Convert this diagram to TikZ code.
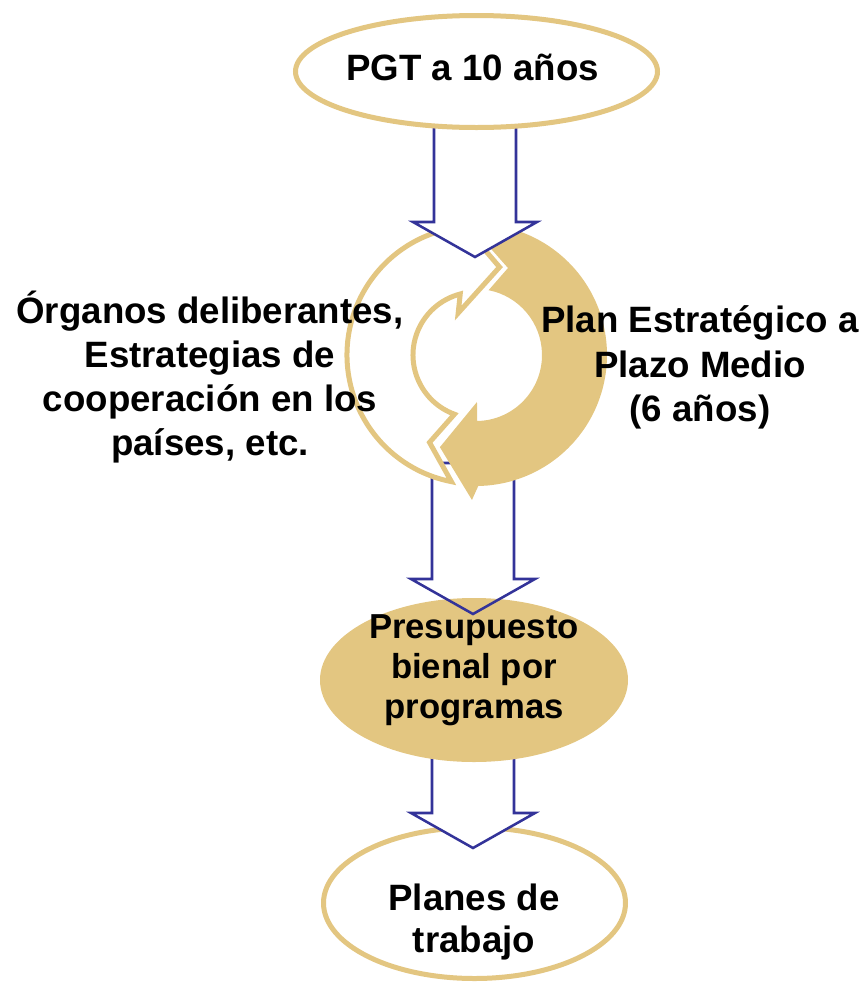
\documentclass[tikz,border=0pt]{standalone}
\usepackage{fontspec}
\setmainfont{Liberation Sans}
\usetikzlibrary{shapes.geometric,calc}
\definecolor{tanc}{RGB}{227,198,129}
\definecolor{navyc}{RGB}{51,51,153}
\newcommand\blockarrow[3]{%
  \path[barrow,#3] (#2) -- ($(#2)+(-62,-35)$) -- ($(#2)+(-41,-35)$) |- (#1)
     -| ($(#2)+(41,-35)$) -- ($(#2)+(62,-35)$) -- cycle;}
\begin{document}
\begin{tikzpicture}[x=0.75pt,y=-0.75pt,
  oval/.style={ellipse, inner sep=0pt, outer sep=0pt},
  ovalline/.style={oval, draw=tanc, line width=3.75pt, fill=white},
  barrow/.style={draw=navyc, line width=1.9pt, line join=miter},
  lbl/.style={anchor=base, inner sep=0pt, font=\fontsize{27.5}{33}\selectfont\bfseries},
  lblsm/.style={lbl, font=\fontsize{26}{31}\selectfont\bfseries}]
\useasboundingbox (0,0) rectangle (866,982);
\coordinate (pgtC) at (476.5,71.5);
\coordinate (cyc) at (476,355);
\coordinate (presC) at (474,680);

% Planes de trabajo
\node[ovalline, minimum width=226.5pt, minimum height=113.25pt] (plans) at (474.5,903) {};
% arrow 3
\coordinate (s3) at ($(presC)+(0,70)$);
\coordinate (t3) at ($(plans.north)+(-1.5,20.5)$);
\blockarrow{s3}{t3}{fill=white}
% Presupuesto
\node[oval, fill=tanc, minimum width=231pt, minimum height=123pt] (pres) at (presC) {};
% arrow 2
\coordinate (s2) at ($(cyc)+(0,108)$);
\coordinate (t2) at ($(pres.north)+(-1,16)$);
\blockarrow{s2}{t2}{}
% circular arrows
\begin{scope}[shift={(cyc)}, yscale=-1]
  \fill[tanc] (93:131) arc[start angle=93, end angle=-89, radius=131]
     -- (-91.6:145) -- (-111.4:99) -- (-88.8:47) -- (-89:66)
     arc[start angle=-89, end angle=79, radius=66] -- (69.8:92.7) -- cycle;
  \filldraw[draw=tanc, fill=white, line width=3.75pt, line join=miter]
     (259:129) -- (242:99) -- (250:63)
     arc[start angle=250, end angle=104.5, radius=63]
     -- (113:45.6) -- (75:91) -- (99.4:145) -- (104:129)
     arc[start angle=104, end angle=259, radius=129] -- cycle;
\end{scope}
% arrow 1
\coordinate (s1) at ($(pgtC)+(0,46.5)$);
\coordinate (t1) at ($(cyc)+(-1,-98)$);
\blockarrow{s1}{t1}{fill=white}
% PGT
\node[ovalline, minimum width=271.5pt, minimum height=84pt] (pgt) at (pgtC) {};

% texts
\node[lbl] (pgtT) at (472.5,80) {PGT a 10 años};
\node[lbl] (orgA) at (210,323) {Órganos deliberantes,};
\node[lbl] (orgB) at (210,367.5) {Estrategias de};
\node[lbl] (orgC) at (210,411.5) {cooperación en los};
\node[lbl] (orgD) at (210,455.5) {países, etc.};
\node[lbl] (pemA) at (700,332) {Plan Estratégico a};
\node[lbl] (pemB) at (700,377) {Plazo Medio};
\node[lbl] (pemC) at (700,421) {(6 años)};
\node[lblsm] (presA) at (474,638) {Presupuesto};
\node[lblsm] (presB) at (474,678) {bienal por};
\node[lblsm] (presC2) at (474,718) {programas};
\node[lbl] (plA) at (474,910) {Planes de};
\node[lbl] (plB) at (474,952) {trabajo};
\end{tikzpicture}
\end{document}
